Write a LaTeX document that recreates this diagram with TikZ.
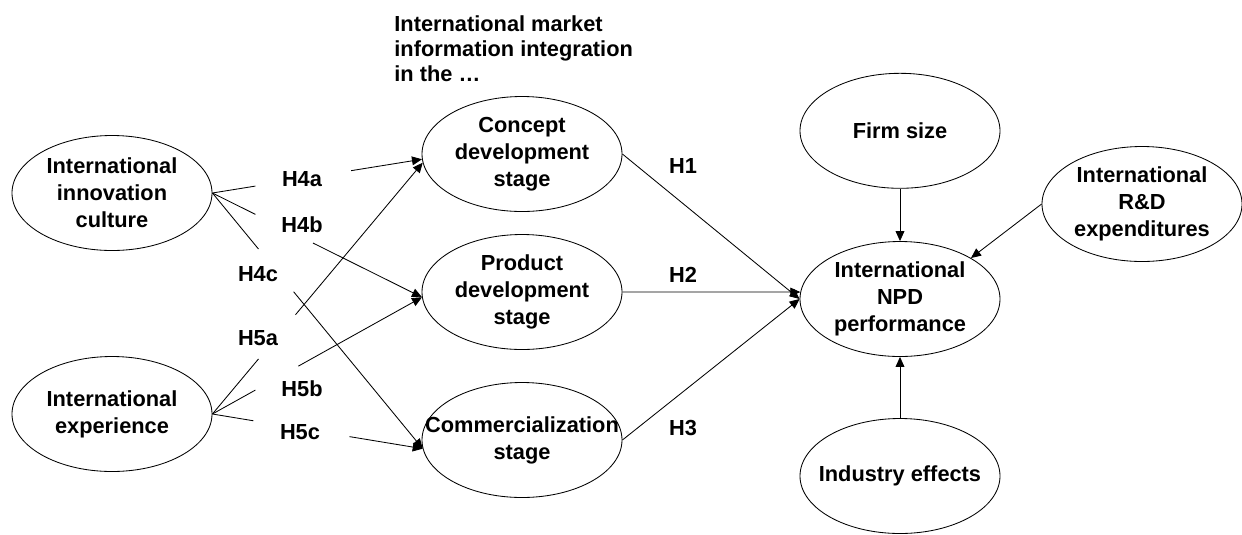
\documentclass[tikz,border=0pt]{standalone}
\usepackage{fontspec}
\setmainfont{Liberation Sans}
\usetikzlibrary{shapes.geometric,arrows.meta}

\tikzset{
    oval/.style={draw, ellipse, line width=0.6pt, minimum width=5cm, minimum height=2.875cm,
        inner xsep=-1cm, inner ysep=0pt, align=center,
        font=\fontsize{15.5}{19.2}\selectfont\bfseries},
    hyp/.style={inner sep=0pt, font=\fontsize{15.5}{19.2}\selectfont\bfseries},
    arr/.style={-{Triangle[length=0.25cm,width=0.22cm]}},
}

\begin{document}
\begin{tikzpicture}[line width=0.6pt]
        \useasboundingbox (0,0) rectangle (31.05,-13.35);

        \node[anchor=north west, inner sep=0pt, align=left,
            font=\fontsize{15.5}{17.8}\selectfont\bfseries] (MII) at (9.85,-0.375)
            {International market\\information integration\\in the …};

        \node[oval] (IIC) at (2.8,-4.825) {International\\innovation\\culture};
        \node[oval] (IE) at (2.8,-10.35) {International\\experience};

        \node[oval] (CDS) at (13.05,-3.85) {Concept\\development\\stage};
        \node[oval] (PDS) at (13.05,-7.3) {Product\\development\\stage};
        \node[oval] (CS) at (13.05,-11.0) {Commercialization\\stage};

        \node[oval] (NPD) at (22.5,-7.475) {International\\NPD\\performance};
        \node[oval] (FS) at (22.5,-3.27) {Firm size};
        \node[oval] (RD) at (28.55,-5.1) {International\\R\&D\\expenditures};
        \node[oval] (IND) at (22.5,-11.9) {Industry effects};

        % Hypotheses
        \node[hyp] (H4a) at (7.55,-4.475) {H4a};
        \node[hyp] (H4b) at (7.55,-5.625) {H4b};
        \node[hyp] (H4c) at (6.45,-6.85) {H4c};
        \node[hyp] (H5a) at (6.45,-8.45) {H5a};
        \node[hyp] (H5b) at (7.55,-9.725) {H5b};
        \node[hyp] (H5c) at (7.5,-10.8) {H5c};
        \node[hyp] (H1) at (17.075,-4.15) {H1};
        \node[hyp] (H2) at (17.075,-6.875) {H2};
        \node[hyp] (H3) at (17.075,-10.7) {H3};

        % Lines with a gap
        \path (IIC.east) -- coordinate[pos=.205] (g4a1) coordinate[pos=.662] (g4a2) (CDS.183);
        \draw (IIC.east) -- (g4a1);
        \draw[arr] (g4a2) -- (CDS.183);

        \path (IIC.east) -- coordinate[pos=.205] (g4b1) coordinate[pos=.48] (g4b2) (PDS.183);
        \draw (IIC.east) -- (g4b1);
        \draw[arr] (g4b2) -- (PDS.183);

        \path (IIC.east) -- coordinate[pos=.219] (g4c1) coordinate[pos=.386] (g4c2) (CS.185);
        \draw (IIC.east) -- (g4c1);
        \draw[arr] (g4c2) -- (CS.185);

        \path (IE.east) -- coordinate[pos=.219] (g5a1) coordinate[pos=.395] (g5a2) (CDS.185);
        \draw (IE.east) -- (g5a1);
        \draw[arr] (g5a2) -- (CDS.185);

        \path (IE.east) -- coordinate[pos=.205] (g5b1) coordinate[pos=.41] (g5b2) (PDS.183);
        \draw (IE.east) -- (g5b1);
        \draw[arr] (g5b2) -- (PDS.183);

        \path (IE.east) -- coordinate[pos=.195] (g5c1) coordinate[pos=.652] (g5c2) (CS.185);
        \draw (IE.east) -- (g5c1);
        \draw[arr] (g5c2) -- (CS.185);

        % Lines
        \draw[arr] (CDS.east) -- (NPD.west);
        \draw[arr] (PDS.east) -- (NPD.176);
        \draw[arr] (CS.east) -- (NPD.west);

        \draw[arr] (FS.south) -- (NPD.north);
        \draw[arr] (RD.west) -- (NPD.30);
        \draw[arr] (IND.north) -- (NPD.south);
    \end{tikzpicture}
\end{document}
